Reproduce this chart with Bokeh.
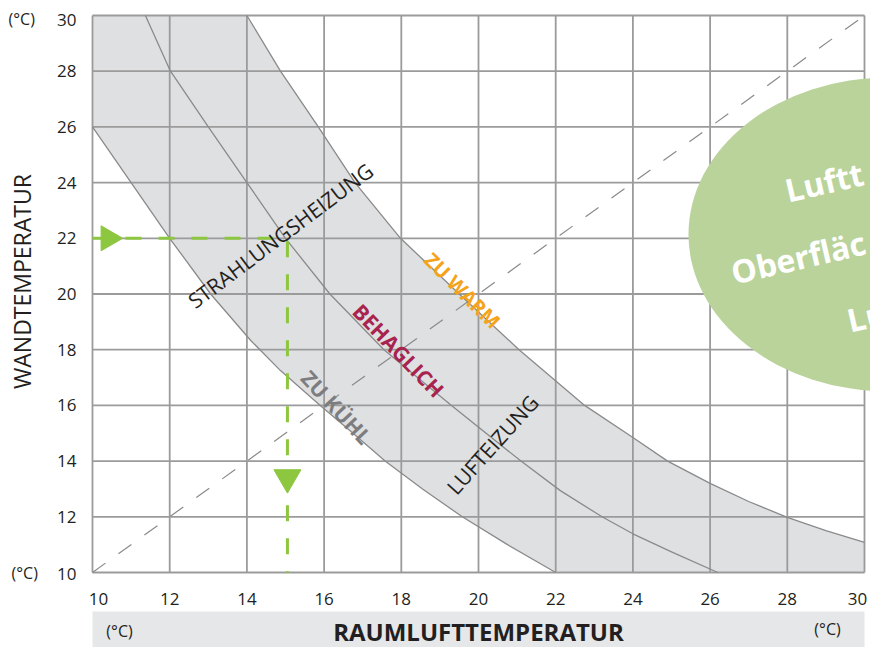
import math
from bokeh.plotting import figure
from bokeh.models import Range1d, ColumnDataSource
from bokeh.embed import file_html
from bokeh.resources import INLINE
from bokeh.core.properties import value

FONT = "Open Sans"

# ---------------- data ----------------
grid_ticks = [10, 12, 14, 16, 18, 20, 22, 24, 26, 28, 30]
tick_labels = ["10", "12", "14", "16", "18", "20", "22", "24", "26", "28", "30"]
x_label_shift = [6, 0, 0, 0, 0, 0, 0, 0, 0, 0, -7]   # px nudges of the end labels
y_label_shift = [1, 0, 0, 0, 0, 0, 0, 0, 0, 0, 4]

# lower curve (zu kühl boundary)
lower_x = [10.0, 11.0, 12.0, 13.06, 14.1, 14.87, 15.9, 16.75, 17.58, 18.55, 19.58, 20.75, 22.0]
lower_y = [26.0, 24.0, 22.0, 20.0, 18.33, 17.25, 16.0, 15.0, 14.0, 13.0, 12.0, 11.0, 10.0]

# middle curve
middle_x = [11.37, 12.02, 13.0, 14.0, 15.0, 16.15, 17.55, 19.3, 21.1, 22.12, 23.2, 24.0, 25.0, 26.2]
middle_y = [30.0, 28.0, 26.0, 24.0, 22.0, 20.0, 18.0, 16.0, 14.0, 12.94, 12.0, 11.39, 10.74, 10.0]

# upper curve (zu warm boundary)
upper_x = [14.0, 14.87, 15.85, 16.8, 17.98, 19.5, 21.05, 22.75, 24.0, 24.9, 26.0, 27.0, 28.0, 29.0, 30.0]
upper_y = [30.0, 28.0, 26.0, 24.0, 22.0, 20.0, 18.0, 16.0, 14.85, 14.0, 13.2, 12.55, 11.98, 11.5, 11.08]

# diagonal (wall = air)
diag_x = [10, 30]
diag_y = [10, 30]

# example reading (green guide)
guide_x = [10.0, 15.05, 15.05]
guide_y = [22.0, 22.0, 10.0]
arrow_right_x = [10.41]
arrow_right_y = [22.0]
arrow_down_x = [15.05]
arrow_down_y = [13.41]

# green bubble
bubble_x = [30.62]
bubble_y = [22.14]
bubble_w = [10.36]
bubble_h = [11.27]

# ---------------- layout helpers (page pixels -> data) ----------------
PXU = 38.6     # px per unit x
PYU = 27.85    # px per unit y
def X(px):
    return 10 + (px - 92) / PXU
def Y(py):
    return 10 + (572 - py) / PYU

p = figure(width=870, height=647, output_backend="svg", toolbar_location=None,
           x_range=Range1d(X(0), X(870)), y_range=Range1d(Y(647), Y(0)),
           x_axis_type=None, y_axis_type=None,
           min_border_left=0, min_border_right=0, min_border_top=0, min_border_bottom=0)
p.xgrid.visible = False
p.ygrid.visible = False
p.outline_line_color = None
p.background_fill_color = "white"
p.border_fill_color = "white"

# shaded comfort band
region_x = [10.0] + upper_x + [30.0] + lower_x[::-1]
region_y = [30.0] + upper_y + [10.0] + lower_y[::-1]
p.patch(region_x, region_y, fill_color="#dfe0e2", line_color=None)

# grid
n = len(grid_ticks)
p.segment(x0=grid_ticks, y0=[10] * n, x1=grid_ticks, y1=[30] * n,
          line_color="#9b9b9b", line_width=1.8)
p.segment(x0=[10] * n, y0=grid_ticks, x1=[30] * n, y1=grid_ticks,
          line_color="#9b9b9b", line_width=1.8)

# curves
for cx, cy in ((lower_x, lower_y), (middle_x, middle_y), (upper_x, upper_y)):
    p.line(cx, cy, line_color="#8a8a8a", line_width=1.3, line_join="round")

# diagonal
p.line(diag_x, diag_y, line_color="#8a8a8a", line_width=1.2, line_dash="16 16")

# green guide
p.line(guide_x, guide_y, line_color="#8dc63f", line_width=3, line_dash="16 17")
p.scatter(arrow_right_x, arrow_right_y, marker="triangle", size=25, angle=-math.pi / 2,
          fill_color="#8dc63f", line_color="#8dc63f")
p.scatter(arrow_down_x, arrow_down_y, marker="inverted_triangle", size=27,
          fill_color="#8dc63f", line_color="#8dc63f")

# tick labels (through the plot's scales)
xt = ColumnDataSource(dict(x=grid_ticks, y=[Y(598)] * n, t=tick_labels, dx=x_label_shift))
p.text(x="x", y="y", text="t", x_offset="dx", source=xt, text_font=value(FONT),
       text_font_size="17px", text_color="#231f20", text_align="center", text_baseline="middle")
yt = ColumnDataSource(dict(x=[X(76)] * n, y=grid_ticks, t=tick_labels, dy=y_label_shift))
p.text(x="x", y="y", text="t", y_offset="dy", source=yt, text_font=value(FONT),
       text_font_size="17px", text_color="#231f20", text_align="right", text_baseline="middle")

def txt(px, py, s, ang, color, size, style="normal", align="center", baseline="middle"):
    p.text(x=[X(px)], y=[Y(py)], text=[s], angle=math.radians(ang),
           text_font=value(FONT), text_font_size=size, text_font_style=style,
           text_color=color, text_align=align, text_baseline=baseline)

txt(280, 235, "STRAHLUNGSHEIZUNG", 37, "#231f20", "21px")
txt(492, 444, "LUFTEIZUNG", 48, "#231f20", "21px")
txt(462, 290, "ZU WARM", -45, "#f5a31a", "20px", "bold")
txt(398, 350, "BEHAGLICH", -46, "#a8234e", "21px", "bold")
txt(336, 407, "ZU KÜHL", -47, "#7d7d7f", "21px", "bold")

# bubble
p.ellipse(x=bubble_x, y=bubble_y, width=bubble_w, height=bubble_h,
          fill_color="#bad39b", line_color=None)
txt(785, 190, "Luftt", 13, "white", "32px", "bold", "left", "alphabetic")
txt(731, 272, "Oberfläc", 13, "white", "32px", "bold", "left", "alphabetic")
txt(847, 320, "Lu", 13, "white", "32px", "bold", "left", "alphabetic")

# axis titles and units
txt(8, 18, "(°C)", 0, "#231f20", "16px", align="left")
txt(11, 572, "(°C)", 0, "#231f20", "16px", align="left")
txt(21, 281, "WANDTEMPERATUR", 90, "#231f20", "23px")

# bottom band
p.quad(left=[10], right=[30], bottom=[Y(647)], top=[Y(611)], fill_color="#e6e7e8", line_color=None)
txt(119, 630, "(°C)", 0, "#231f20", "16px")
txt(827, 628, "(°C)", 0, "#231f20", "16px")
txt(478, 631, "RAUMLUFTTEMPERATUR", 0, "#231f20", "24px", "bold")

open("out.html", "w").write(file_html(p, INLINE))
